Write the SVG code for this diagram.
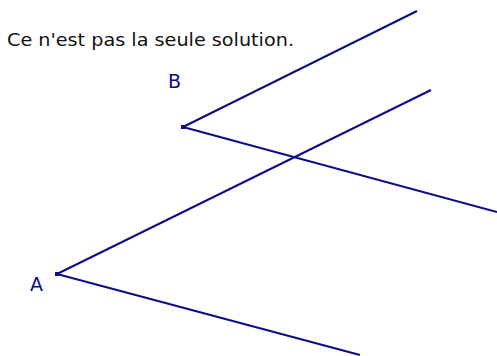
<svg xmlns="http://www.w3.org/2000/svg" width="497" height="356" viewBox="0 0 497 356">
<style>
.ln{stroke:#0c0c8a;stroke-width:2;fill:none;stroke-linecap:butt}
.pt{fill:#0c0c8a}
.lbl{font-family:"DejaVu Sans",sans-serif;font-size:19px;fill:#0c0c8a}
.cap{font-family:"DejaVu Sans",sans-serif;font-size:17.5px;fill:#111}
</style>
<rect width="497" height="356" fill="#fff"/>
<text class="cap" x="7" y="46" textLength="287" lengthAdjust="spacingAndGlyphs">Ce n'est pas la seule solution.</text>
<g id="connectors">
<line class="ln" x1="183" y1="127" x2="417" y2="11"/>
<line class="ln" x1="183" y1="127" x2="497" y2="212"/>
<line class="ln" x1="57" y1="274" x2="431" y2="90"/>
<line class="ln" x1="57" y1="274" x2="360" y2="355"/>
</g>
<g id="B">
<rect class="pt" x="181" y="125" width="4" height="4"/>
<text class="lbl" x="168" y="88">B</text>
</g>
<g id="A">
<rect class="pt" x="55" y="272" width="4" height="4"/>
<text class="lbl" x="30" y="291">A</text>
</g>
</svg>
